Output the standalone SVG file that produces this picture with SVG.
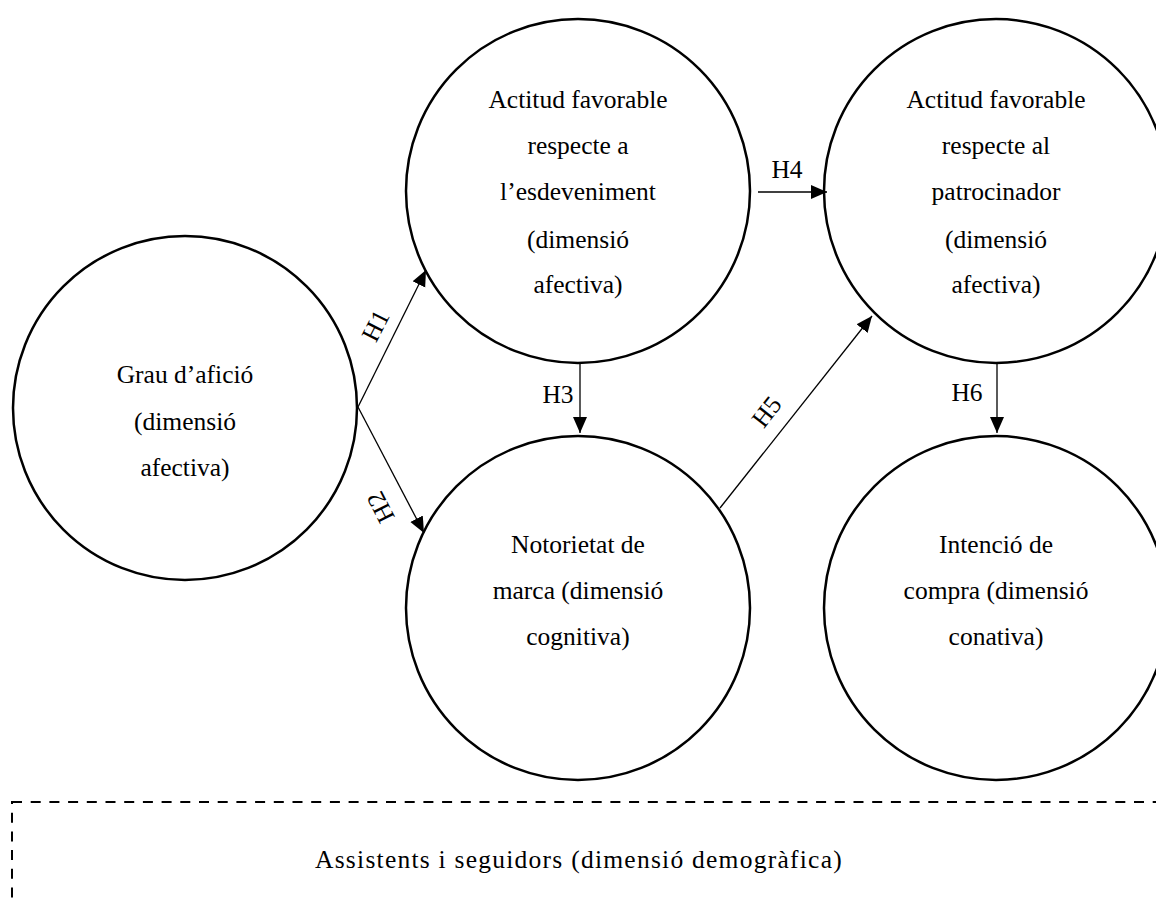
<svg xmlns="http://www.w3.org/2000/svg" width="1156" height="900" viewBox="0 0 1156 900">
  <style>
    .node circle { fill: #fff; stroke: #000; stroke-width: 2.5; }
    .label { font-family: "Liberation Serif", "Times New Roman", serif; font-size: 25.5px; fill: #000; text-anchor: middle; }
    .edge { stroke: #000; stroke-width: 1.3; fill: none; }
    .frame { fill: none; stroke: #000; stroke-width: 2; stroke-dasharray: 10 8.7; }
  </style>
  <defs>
    <marker id="arrow" markerUnits="userSpaceOnUse" markerWidth="17" markerHeight="16" refX="16" refY="8" orient="auto">
      <path d="M0,1 L16,8 L0,15 Z" fill="#000"/>
    </marker>
  </defs>
  <rect width="1156" height="900" fill="#fff"/>

  <!-- demographic frame -->
  <g id="frame">
    <rect class="frame" x="12" y="802" width="1170" height="140"/>
    <text class="label" x="579" y="868" letter-spacing="1.25">Assistents i seguidors (dimensió demogràfica)</text>
  </g>

  <g id="aficio" class="node">
    <circle cx="185" cy="408" r="172"/>
    <text class="label" x="185" y="383">Grau d’afició</text>
    <text class="label" x="185" y="430">(dimensió</text>
    <text class="label" x="185" y="476">afectiva)</text>
  </g>

  <g id="actitud-esdeveniment" class="node">
    <circle cx="578" cy="191" r="172"/>
    <text class="label" x="578" y="108">Actitud favorable</text>
    <text class="label" x="578" y="154">respecte a</text>
    <text class="label" x="578" y="200">l’esdeveniment</text>
    <text class="label" x="578" y="248">(dimensió</text>
    <text class="label" x="578" y="293">afectiva)</text>
  </g>

  <g id="notorietat" class="node">
    <circle cx="578" cy="608" r="172"/>
    <text class="label" x="578" y="553">Notorietat de</text>
    <text class="label" x="578" y="599">marca (dimensió</text>
    <text class="label" x="578" y="645">cognitiva)</text>
  </g>

  <g id="actitud-patrocinador" class="node">
    <circle cx="996" cy="191" r="172"/>
    <text class="label" x="996" y="108">Actitud favorable</text>
    <text class="label" x="996" y="154">respecte al</text>
    <text class="label" x="996" y="200">patrocinador</text>
    <text class="label" x="996" y="248">(dimensió</text>
    <text class="label" x="996" y="293">afectiva)</text>
  </g>

  <g id="intencio" class="node">
    <circle cx="996" cy="608" r="172"/>
    <text class="label" x="996" y="553">Intenció de</text>
    <text class="label" x="996" y="599">compra (dimensió</text>
    <text class="label" x="996" y="645">conativa)</text>
  </g>

  <g id="connectors">
    <line class="edge" x1="358" y1="407" x2="426" y2="270" marker-end="url(#arrow)"/>
    <line class="edge" x1="358" y1="407" x2="424" y2="533" marker-end="url(#arrow)"/>
    <line class="edge" x1="580" y1="363" x2="580" y2="433" marker-end="url(#arrow)"/>
    <line class="edge" x1="758" y1="192" x2="827" y2="192" marker-end="url(#arrow)"/>
    <line class="edge" x1="720" y1="508" x2="872" y2="316" marker-end="url(#arrow)"/>
    <line class="edge" x1="997" y1="363" x2="997" y2="433" marker-end="url(#arrow)"/>
    <text class="label" transform="translate(376,326) rotate(-63)" y="8">H1</text>
    <text class="label" transform="translate(381,507) rotate(-117)" y="8">H2</text>
    <text class="label" x="558" y="403">H3</text>
    <text class="label" x="787" y="178">H4</text>
    <text class="label" transform="translate(767,412) rotate(-52)" y="8">H5</text>
    <text class="label" x="967" y="401">H6</text>
  </g>
</svg>
